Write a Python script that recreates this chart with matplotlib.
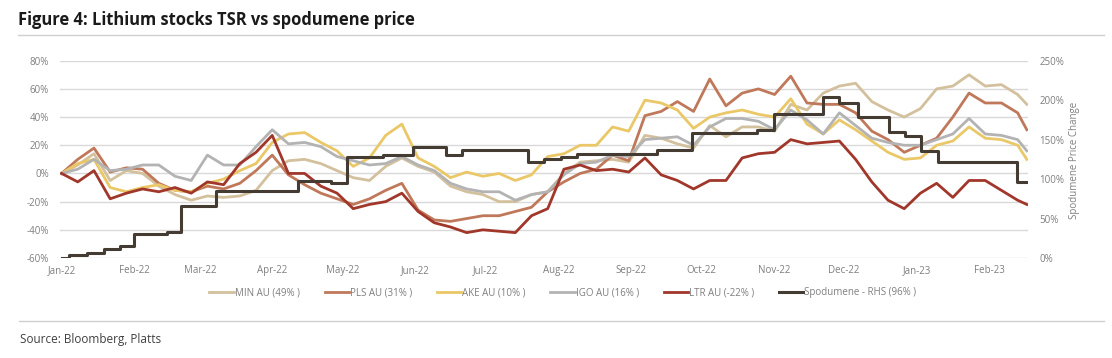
import matplotlib

matplotlib.use("Agg")
import matplotlib.dates as mdates
import matplotlib.pyplot as plt
import pandas as pd
from matplotlib.lines import Line2D
from matplotlib.ticker import FuncFormatter

plt.rcParams["font.family"] = ["Open Sans", "DejaVu Sans"]

# weekly points, 1 Jan 2022 .. 17 Feb 2023 (TSR in %)
dates = list(pd.date_range("2022-01-01", periods=60, freq="166h")) + [pd.Timestamp("2023-02-17")]

min_au = [0, 6, 14, -5, 2, 0, -9, -15, -19, -16, -17, -16, -12, 2, 9, 10, 7, 2, -3, -5,
          5, 11, 5, 1, -9, -13, -15, -20, -20, -15, -13, 0, 8, 9, 10, 8, 27, 25, 21, 18,
          34, 26, 33, 33, 30, 49, 45, 57, 62, 64, 51, 45, 40, 46, 60, 62, 70, 62, 63, 56, 49]
pls_au = [0, 10, 18, 1, 4, 3, -7, -12, -13, -9, -11, -7, 2, 13, -1, -8, -14, -18, -22, -18,
          -12, -7, -26, -33, -34, -32, -30, -30, -27, -24, -13, -6, 0, 3, 13, 9, 41, 44, 51, 44,
          67, 48, 57, 60, 56, 69, 50, 49, 49, 43, 30, 24, 15, 20, 25, 40, 57, 50, 50, 43, 31]
ake_au = [0, 7, 10, -10, -13, -10, -8, -12, -13, -7, -4, 2, 7, 22, 28, 29, 22, 16, 5, 11,
          27, 35, 11, 5, -3, 1, -2, 0, -5, -1, 12, 14, 20, 20, 33, 30, 52, 50, 45, 32,
          40, 43, 45, 42, 40, 53, 35, 28, 38, 31, 23, 15, 10, 11, 20, 23, 33, 25, 24, 20, 10]
igo_au = [0, 3, 10, 2, 3, 6, 6, -2, -5, 13, 6, 6, 19, 31, 21, 22, 19, 12, 9, 6,
          7, 12, 6, 2, -7, -11, -13, -13, -19, -15, -13, -1, 7, 8, 13, 12, 24, 25, 26, 20,
          33, 39, 39, 37, 31, 45, 38, 28, 43, 34, 25, 22, 20, 20, 24, 28, 39, 28, 27, 24, 16]
ltr_au = [0, -6, 2, -18, -14, -11, -13, -10, -14, -6, -8, 7, 15, 27, 0, 0, -9, -14, -25, -22,
          -20, -14, -27, -35, -38, -42, -40, -41, -42, -30, -25, 3, 6, 2, 3, 1, 11, -1, -5, -11,
          -5, -5, 11, 14, 15, 24, 21, 22, 23, 10, -6, -19, -25, -14, -7, -17, -5, -5, -12, -19, -22]

# spodumene price change (RHS, %), step changes
spod_dates = pd.to_datetime([
    "2022-01-01", "2022-01-04", "2022-01-12", "2022-01-19", "2022-01-26", "2022-02-01",
    "2022-02-15", "2022-02-21", "2022-03-08", "2022-04-12", "2022-04-26", "2022-05-03",
    "2022-05-18", "2022-05-31", "2022-06-14", "2022-06-21", "2022-07-19", "2022-07-26",
    "2022-08-02", "2022-08-09", "2022-09-12", "2022-09-27", "2022-10-25", "2022-11-01",
    "2022-11-22", "2022-11-29", "2022-12-07", "2022-12-20", "2022-12-27", "2023-01-03",
    "2023-01-10", "2023-02-13", "2023-02-17",
])
spod_vals = [0, 4, 6, 12, 15, 30, 33, 66, 85, 98, 95, 128, 131, 141, 130, 137, 122, 125,
             128, 132, 137, 159, 162, 183, 204, 196, 179, 160, 154, 135, 122, 96, 96]

series = [
    ("MIN AU (49% )", min_au, "#D3C09D"),
    ("PLS AU (31% )", pls_au, "#C0785A"),
    ("AKE AU (10% )", ake_au, "#EAC867"),
    ("IGO AU (16% )", igo_au, "#B3B3B3"),
    ("LTR AU (-22% )", ltr_au, "#A0372A"),
]

W, H = 1112, 358
fig = plt.figure(figsize=(W / 100, H / 100), dpi=100)
ax = fig.add_axes([60 / W, 1 - 258 / H, (1028 - 60) / W, (258 - 60.7) / H])

for label, vals, color in series:
    ax.plot(dates, vals, color=color, lw=2, label=label, solid_joinstyle="round")

ax.set_ylim(-60, 80)
ax.set_yticks(range(-60, 81, 20))
ax.yaxis.set_major_formatter(FuncFormatter(lambda v, _: f"{v:.0f}%"))
ax.set_xlim(pd.Timestamp("2021-12-31 08:00"), pd.Timestamp("2023-02-17 12:00"))
ax.xaxis.set_major_locator(mdates.MonthLocator())
ax.xaxis.set_major_formatter(mdates.DateFormatter("%b-%y"))
ax.grid(axis="y", color="#D9D9D9", lw=1)
ax.set_axisbelow(True)
for s in ax.spines.values():
    s.set_visible(False)
ax.tick_params(length=0, labelsize=7, colors="#7F7F7F")
ax.tick_params(axis="y", pad=8)
ax.tick_params(axis="x", pad=5)

ax2 = ax.twinx()
ax2.plot(spod_dates, spod_vals, color="#443B32", lw=2.2, drawstyle="steps-post",
         label="Spodumene - RHS (96% )")
ax2.set_ylim(0, 250)
ax2.set_yticks(range(0, 251, 50))
ax2.yaxis.set_major_formatter(FuncFormatter(lambda v, _: f"{v:.0f}%"))
for s in ax2.spines.values():
    s.set_visible(False)
ax2.tick_params(length=0, labelsize=7, colors="#7F7F7F", pad=8)
fig.text(1075 / W, 1 - 160 / H, "Spodumene Price Change", rotation=90, ha="center",
         va="center", fontsize=7, color="#7F7F7F")

handles = ax.get_lines() + ax2.get_lines()
fig.legend(handles, [h.get_label() for h in handles], loc="center", ncol=6,
           bbox_to_anchor=(563 / W, 1 - 293 / H), frameon=False, fontsize=7,
           handlelength=2.5, handletextpad=0.1, columnspacing=2.55, labelcolor="#7F7F7F")

fig.text(18 / W, 1 - 25 / H, "Figure 4: Lithium stocks TSR vs spodumene price",
         fontsize=11.9, fontweight="bold", color="#1A1A1A", va="baseline")
fig.lines.append(Line2D([18 / W, 1104 / W], [1 - 35 / H] * 2, color="#CFCFCF", lw=1,
                        transform=fig.transFigure))
fig.lines.append(Line2D([19 / W, 1104 / W], [1 - 321 / H] * 2, color="#CFCFCF", lw=1,
                        transform=fig.transFigure))
fig.text(20 / W, 1 - 343 / H, "Source: Bloomberg, Platts", fontsize=8.5, color="#404040",
         va="baseline")

fig.savefig("out.png", dpi=100)
